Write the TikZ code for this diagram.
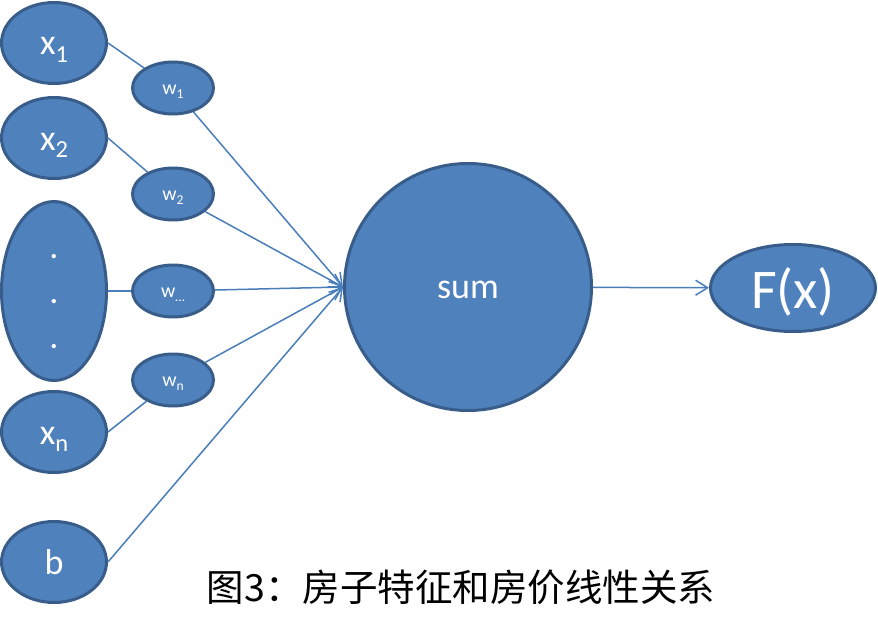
\documentclass[tikz,border=0pt]{standalone}
\usepackage{fontspec}
\setmainfont{Carlito}
\newfontfamily\cjk{Noto Sans CJK SC}
\usetikzlibrary{shapes.geometric,arrows.meta}
\definecolor{unitfill}{HTML}{4F81BD}
\definecolor{unitborder}{HTML}{385D8A}
\definecolor{linkcolor}{HTML}{4A7EBB}
\newcommand\idx[1]{\raisebox{-0.22em}{\scalebox{0.68}{#1}}}

\begin{document}
\begin{tikzpicture}
    [
    x=1pt,y=-1pt,
    unit/.style={ellipse,draw=unitborder,fill=unitfill,line width=3pt,inner sep=0pt,text=white},
    input/.style={unit,minimum width=105pt,minimum height=81pt,text height=30pt,text depth=6pt,font=\fontsize{36}{40}\selectfont},
    weight/.style={unit,minimum width=81pt,minimum height=52pt,text height=16pt,text depth=4pt,font=\fontsize{20}{24}\selectfont},
    link/.style={draw=linkcolor,line width=1.5pt},
    arrow/.style={link,-{Straight Barb[length=12pt,width=15pt]}}
    ]
    \useasboundingbox (0,0) rectangle (878,634);
    \node (x1) at (54,43) [input] {x\idx{1}};
    \node (x2) at (54,138) [input] {x\idx{2}};
    \node (xdots) at (54,291) [unit,minimum width=105pt,minimum height=179pt,
      label={[text=white,font=\fontsize{36}{45}\selectfont,align=center,yshift=-11pt]center:.\\.\\.}] {};
    \node (xn) at (54,432) [input] {x\idx{n}};
    \node (b) at (54,562) [input] {b};
    \node (w1) at (173,88) [weight] {w\idx{1}};
    \node (w2) at (173,194) [weight] {w\idx{2}};
    \node (wdots) at (173,291) [weight] {w\idx{\dots}};
    \node (wn) at (173,380) [weight] {w\idx{n}};
    \node (sum) at (468,287) [unit,circle,minimum size=247pt,text height=28pt,text depth=6pt,font=\fontsize{36}{40}\selectfont] {sum};
    \node (F) at (793,288) [unit,minimum width=165pt,minimum height=87pt,text height=46pt,text depth=6pt,font=\fontsize{56}{60}\selectfont] {F(x)};
    \node (caption) at (461,587) [font=\cjk\fontsize{37.5}{42}\selectfont] {图3：房子特征和房价线性关系};
    \draw [link] (x1.east) -- (w1);
    \draw [link] (x2.east) -- (w2);
    \draw [link] (xdots) -- (wdots);
    \draw [link] (xn.east) -- (wn);
    \draw [arrow] (w1) -- (sum.west);
    \draw [arrow] (w2) -- (sum.west);
    \draw [arrow] (wdots) -- (sum.west);
    \draw [arrow] (wn) -- (sum.west);
    \draw [arrow] (b.east) -- (sum.west);
    \draw [arrow] (sum) -- (F);
  \end{tikzpicture}
\end{document}
